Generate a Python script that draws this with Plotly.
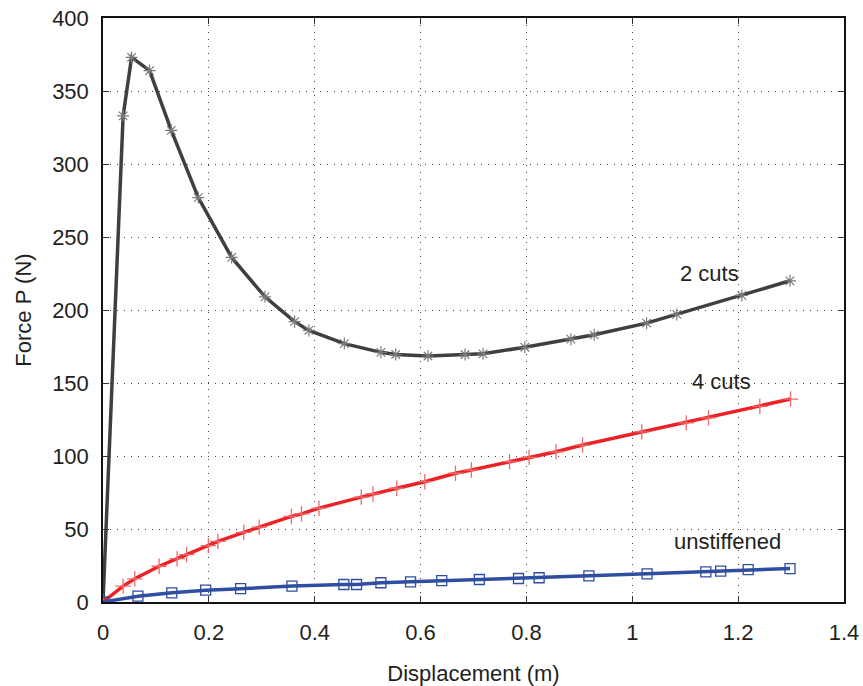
import plotly.graph_objects as go

# ---- data ----
x_2cuts = [0.0, 0.038, 0.054, 0.088, 0.129, 0.180, 0.243, 0.306, 0.362, 0.389, 0.456,
           0.525, 0.553, 0.614, 0.684, 0.718, 0.797, 0.884, 0.928, 1.027, 1.084, 1.207, 1.298]
y_2cuts = [0.0, 333, 373, 364, 323, 277, 236, 209, 192, 186, 177,
           171, 169.5, 168.5, 169.5, 170, 174.5, 180, 183, 191, 197, 210, 220]

x_4cuts = [0.0, 0.038, 0.060, 0.106, 0.140, 0.158, 0.199, 0.217, 0.266, 0.295, 0.356,
           0.375, 0.408, 0.488, 0.510, 0.555, 0.608, 0.666, 0.696, 0.768, 0.805, 0.856,
           0.906, 1.018, 1.102, 1.144, 1.241, 1.299]
y_4cuts = [0.0, 10.9, 15.9, 24.5, 29.7, 32.5, 38.6, 41.5, 47.7, 51.3, 58.6,
           60.4, 64.3, 71.8, 74.0, 77.9, 82.4, 88.2, 90.4, 96.1, 99.1, 102.9,
           107.5, 116.5, 122.7, 126.1, 134.0, 139.0]

x_unstiff = [0.0, 0.066, 0.130, 0.194, 0.260, 0.357, 0.455, 0.479, 0.525, 0.581, 0.640,
             0.711, 0.785, 0.824, 0.918, 1.028, 1.139, 1.167, 1.219, 1.298]
y_unstiff = [0.0, 4.0, 6.3, 8.1, 9.1, 10.9, 12.0, 12.0, 13.2, 13.8, 14.7,
             15.4, 16.1, 16.6, 17.9, 19.3, 20.7, 21.1, 22.2, 22.9]

x_ticks = [0, 0.2, 0.4, 0.6, 0.8, 1.0, 1.2, 1.4]
x_tick_labels = ["0", "0.2", "0.4", "0.6", "0.8", "1", "1.2", "1.4"]
y_ticks = [0, 50, 100, 150, 200, 250, 300, 350, 400]

labels = ["2 cuts", "4 cuts", "unstiffened"]
label_x = [1.146, 1.169, 1.180]
label_y = [225, 150.7, 41.5]

FONT = "Liberation Sans, Arial, sans-serif"
TXT = "#231f20"
FS = 22

fig = go.Figure()

fig.add_trace(go.Scatter(
    x=x_2cuts, y=y_2cuts, mode="lines+markers", name="2 cuts",
    line=dict(color="#3f3f3f", width=3.5),
    marker=dict(symbol="asterisk-open", size=10, color="#7a7a7a",
                line=dict(color="#7a7a7a", width=1.2)),
))
fig.add_trace(go.Scatter(
    x=x_4cuts, y=y_4cuts, mode="lines+markers", name="4 cuts",
    line=dict(color="#ec2227", width=3.5),
    marker=dict(symbol="cross-thin-open", size=11, color="#f06a6a",
                line=dict(color="#f06a6a", width=1.3)),
))
fig.add_trace(go.Scatter(
    x=x_unstiff, y=y_unstiff, mode="lines+markers", name="unstiffened",
    line=dict(color="#2f4ea2", width=3.5),
    marker=dict(symbol="square-open", size=10, color="#2f4ea2",
                line=dict(color="#3a56a8", width=1.3)),
))

for t, xx, yy in zip(labels, label_x, label_y):
    fig.add_annotation(x=xx, y=yy, text=t, showarrow=False,
                       font=dict(family=FONT, size=FS, color=TXT),
                       xanchor="center", yanchor="middle")

axis_common = dict(
    showline=True, linecolor="#111111", linewidth=1.5, mirror="ticks",
    ticks="inside", ticklen=6, tickwidth=1.2, tickcolor="#333333",
    showgrid=True, gridcolor="#444444", gridwidth=1, griddash="1px,6px",
    zeroline=False, automargin=False,
    tickfont=dict(family=FONT, size=FS, color=TXT),
)

fig.update_xaxes(range=[0, 1.4], tickvals=x_ticks, ticktext=x_tick_labels,
                 title=dict(text="Displacement (m)",
                            font=dict(family=FONT, size=FS, color=TXT), standoff=21),
                 ticklabelstandoff=10, **axis_common)
fig.update_yaxes(range=[0, 400], tickvals=y_ticks,
                 title=dict(text="Force P (N)",
                            font=dict(family=FONT, size=FS, color=TXT), standoff=14),
                 ticklabelstandoff=8, **axis_common)

fig.update_layout(
    width=863, height=686,
    margin=dict(l=103, r=19, t=18, b=84, pad=0),
    paper_bgcolor="white", plot_bgcolor="white",
    showlegend=False,
    font=dict(family=FONT, color=TXT),
)

fig.write_html("out.html", config={"displayModeBar": False},
               post_script="document.body.style.margin='0';document.body.style.overflow='hidden';")
